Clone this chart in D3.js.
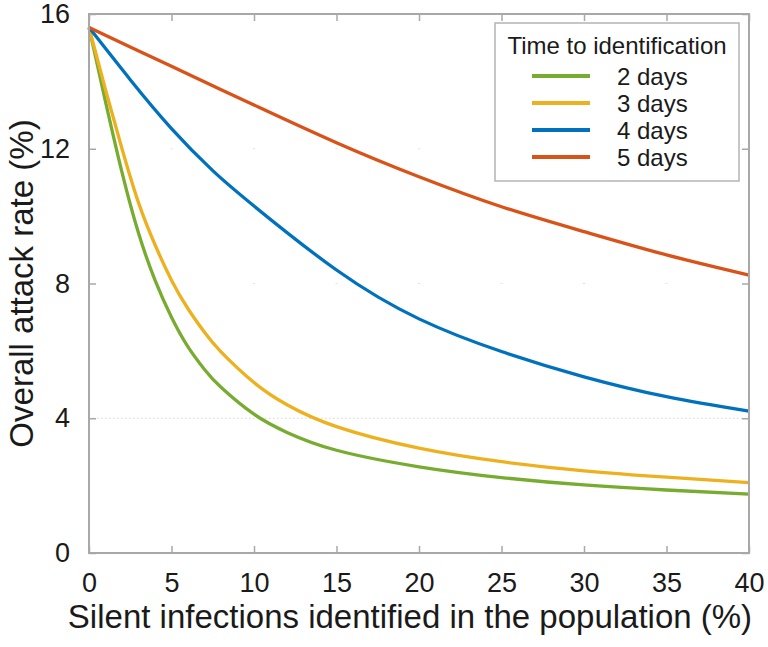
<!DOCTYPE html>
<html>
<head>
<meta charset="utf-8">
<script src="https://d3js.org/d3.v7.min.js"></script>
<style>
  body { margin: 0; background: #fff; }
  text { font-family: "Liberation Sans", Arial, Helvetica, sans-serif; fill: #1a1a1a; }
</style>
</head>
<body>
<svg id="chart" width="768" height="647"></svg>
<script>
// data
var xs      = [0, 1, 2, 3, 4, 5, 6, 7, 8, 10, 12, 15, 20, 25, 30, 35, 40];
var days2   = [15.6, 13.4, 11.3, 9.5, 8.1, 7.0, 6.12, 5.45, 4.92, 4.12, 3.58, 3.05, 2.56, 2.24, 2.02, 1.87, 1.75];
var days3   = [15.6, 13.75, 12.0, 10.4, 9.15, 8.1, 7.25, 6.55, 5.97, 5.06, 4.4, 3.75, 3.11, 2.71, 2.44, 2.25, 2.09];
var xsSlow  = [0, 2.5, 5, 7.5, 10, 15, 20, 25, 30, 35, 40];
var days4   = [15.6, 14.05, 12.6, 11.35, 10.3, 8.4, 6.95, 5.98, 5.23, 4.64, 4.21];
var days5   = [15.6, 15.02, 14.45, 13.87, 13.3, 12.18, 11.17, 10.28, 9.54, 8.85, 8.25];
var seriesNames  = ["2 days", "3 days", "4 days", "5 days"];
var seriesColors = ["#77AC30", "#EDB120", "#0072BD", "#D95319"];
var xTicks = [0, 5, 10, 15, 20, 25, 30, 35, 40];
var yTicks = [0, 4, 8, 12, 16];

var series = [
  {name: seriesNames[0], x: xs, y: days2},
  {name: seriesNames[1], x: xs, y: days3},
  {name: seriesNames[2], x: xsSlow, y: days4},
  {name: seriesNames[3], x: xsSlow, y: days5}
];

var svg = d3.select("#chart");
var pLeft = 89, pRight = 749, pTop = 14, pBottom = 553;

var x = d3.scaleLinear().domain([0, 40]).range([pLeft, pRight]);
var y = d3.scaleLinear().domain([0, 16]).range([pBottom, pTop]);

// faint grid at the y=4 line and intersection marks
svg.append("line")
  .attr("x1", pLeft).attr("x2", pRight)
  .attr("y1", y(4)).attr("y2", y(4))
  .attr("stroke", "#d4d4d4").attr("stroke-width", 1)
  .attr("stroke-dasharray", "1.5,2.5");
[8, 12].forEach(function(v) {
  xTicks.slice(1, -1).forEach(function(t) {
    svg.append("line")
      .attr("x1", x(t) - 1).attr("x2", x(t) + 1)
      .attr("y1", y(v)).attr("y2", y(v))
      .attr("stroke", "#e0e0e0").attr("stroke-width", 1);
  });
});

// lines
var line = d3.line().curve(d3.curveNatural);
series.forEach(function(s, i) {
  var pts = s.x.map(function(v, j) { return [x(v), y(s.y[j])]; });
  svg.append("path")
    .attr("d", line(pts))
    .attr("fill", "none")
    .attr("stroke", seriesColors[i])
    .attr("stroke-width", 3.3)
    .attr("stroke-linejoin", "round");
});

// box + inward ticks on all sides
var axisColor = "#a8a8a8";
svg.append("rect")
  .attr("x", pLeft).attr("y", pTop)
  .attr("width", pRight - pLeft).attr("height", pBottom - pTop)
  .attr("fill", "none").attr("stroke", axisColor).attr("stroke-width", 2);

var gb = svg.append("g").attr("transform", "translate(0," + pBottom + ")")
  .call(d3.axisBottom(x).tickValues(xTicks).tickSizeInner(-7).tickSizeOuter(0).tickPadding(20));
var gt = svg.append("g").attr("transform", "translate(0," + pTop + ")")
  .call(d3.axisTop(x).tickValues(xTicks).tickSizeInner(-7).tickSizeOuter(0).tickFormat(""));
var gl = svg.append("g").attr("transform", "translate(" + pLeft + ",0)")
  .call(d3.axisLeft(y).tickValues(yTicks).tickSizeInner(-7).tickSizeOuter(0).tickPadding(19));
var gr = svg.append("g").attr("transform", "translate(" + pRight + ",0)")
  .call(d3.axisRight(y).tickValues(yTicks).tickSizeInner(-7).tickSizeOuter(0).tickFormat(""));

[gb, gt, gl, gr].forEach(function(g) {
  g.select(".domain").remove();
  g.selectAll(".tick line").attr("stroke", axisColor).attr("stroke-width", 1.5);
  g.selectAll(".tick text")
    .attr("font-size", 27)
    .attr("font-family", "'Liberation Sans', Arial, sans-serif")
    .attr("fill", "#1a1a1a");
});

// axis titles
svg.append("text")
  .attr("x", 410).attr("y", 628)
  .attr("text-anchor", "middle")
  .attr("font-size", 33)
  .text("Silent infections identified in the population (%)");

svg.append("text")
  .attr("transform", "translate(33," + ((pTop + pBottom) / 2) + ") rotate(-90)")
  .attr("text-anchor", "middle")
  .attr("font-size", 33)
  .text("Overall attack rate (%)");

// legend
var lg = svg.append("g");
lg.append("rect")
  .attr("x", 495).attr("y", 23)
  .attr("width", 244).attr("height", 158)
  .attr("fill", "#fff").attr("stroke", "#b4b4b4").attr("stroke-width", 1.5);
lg.append("text")
  .attr("x", 617).attr("y", 54)
  .attr("text-anchor", "middle")
  .attr("font-size", 24)
  .text("Time to identification");
seriesNames.forEach(function(n, i) {
  var ly = 76 + i * 27;
  lg.append("line")
    .attr("x1", 532).attr("x2", 590)
    .attr("y1", ly).attr("y2", ly)
    .attr("stroke", seriesColors[i]).attr("stroke-width", 4);
  lg.append("text")
    .attr("x", 617).attr("y", ly + 8.5)
    .attr("font-size", 24)
    .text(n);
});
</script>
</body>
</html>
